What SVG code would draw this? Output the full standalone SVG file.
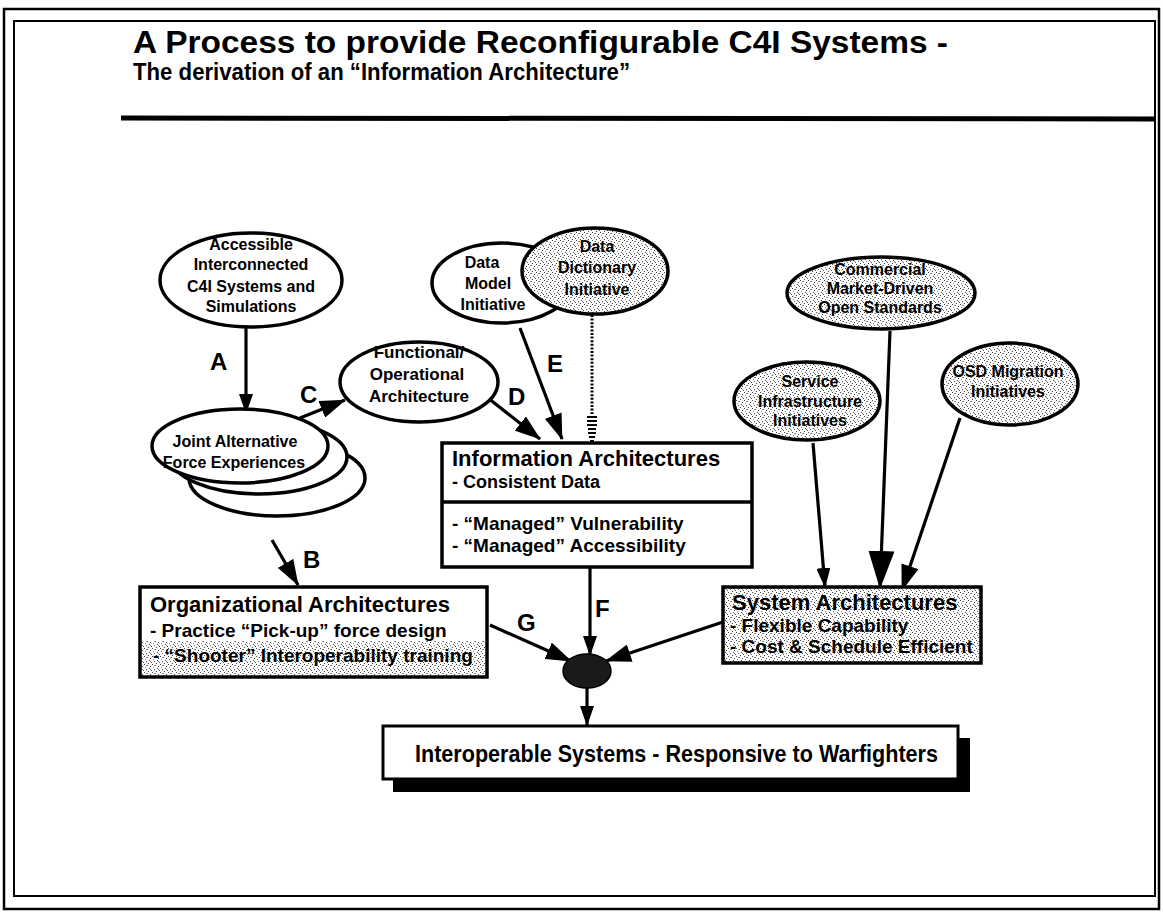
<svg xmlns="http://www.w3.org/2000/svg" width="1163" height="917" viewBox="0 0 1163 917">
<defs>
<style>
.t{font-family:"Liberation Sans",Arial,Helvetica,sans-serif;font-weight:bold;fill:#000}
.el{fill:#fff;stroke:#000;stroke-width:3.5}
.els{fill:url(#stip);stroke:#000;stroke-width:3.5}
.box{fill:#fff;stroke:#000;stroke-width:3.5}
.con{fill:none;stroke:#000;stroke-width:3.2}
.e16{font-size:16px;text-anchor:middle}
.lbl{font-size:24px}
.b22{font-size:22px}
.b19{font-size:19px}
</style>
<pattern id="stip" width="8" height="8" patternUnits="userSpaceOnUse">
<rect width="8" height="8" fill="#fff"/>
<rect x="0" y="0" width="1" height="1" fill="#444"/>
<rect x="3" y="1" width="1" height="1" fill="#666"/>
<rect x="6" y="2" width="1" height="1" fill="#444"/>
<rect x="1" y="3" width="1" height="1" fill="#777"/>
<rect x="5" y="4" width="1" height="1" fill="#444"/>
<rect x="2" y="5" width="1" height="1" fill="#666"/>
<rect x="7" y="6" width="1" height="1" fill="#555"/>
<rect x="4" y="7" width="1" height="1" fill="#444"/>
<rect x="6" y="5" width="1" height="1" fill="#888"/>
<rect x="2" y="1" width="1" height="1" fill="#999"/>
</pattern>
<marker id="ah" viewBox="0 0 20 14" refX="19" refY="7" markerWidth="20" markerHeight="14" markerUnits="userSpaceOnUse" orient="auto">
<path d="M0,0 L20,7 L0,14 z" fill="#000"/>
</marker>
<marker id="ahb" viewBox="0 0 38 26" refX="37" refY="13" markerWidth="38" markerHeight="26" markerUnits="userSpaceOnUse" orient="auto">
<path d="M0,0 L38,13 L0,26 z" fill="#000"/>
</marker>
<marker id="ahm" viewBox="0 0 26 18" refX="25" refY="9" markerWidth="26" markerHeight="18" markerUnits="userSpaceOnUse" orient="auto">
<path d="M0,0 L26,9 L0,18 z" fill="#000"/>
</marker>
</defs>

<rect width="1163" height="917" fill="#fff"/>

<g id="frame" fill="none" stroke="#000">
<rect x="4" y="9" width="1155" height="900" stroke-width="2.5"/>
<rect x="14" y="21" width="1141" height="875" stroke-width="2"/>
<line x1="121" y1="118" x2="1156" y2="119" stroke-width="5"/>
</g>

<g id="title">
<text class="t" x="133" y="53" font-size="31" textLength="815" lengthAdjust="spacingAndGlyphs">A Process to provide Reconfigurable C4I Systems -</text>
<text class="t" x="133" y="80" font-size="23" textLength="497" lengthAdjust="spacingAndGlyphs">The derivation of an “Information Architecture”</text>
</g>

<g id="connectors">
<line class="con" x1="246" y1="328" x2="246" y2="413" marker-end="url(#ah)"/>
<line class="con" x1="300" y1="418" x2="345" y2="400" marker-end="url(#ahm)"/>
<line class="con" x1="272" y1="540" x2="298" y2="585" marker-end="url(#ahm)"/>
<line class="con" x1="488" y1="398" x2="540" y2="439" marker-end="url(#ahm)"/>
<line class="con" x1="520" y1="328" x2="562" y2="439" marker-end="url(#ahm)"/>
<line fill="none" stroke="#000" stroke-width="3" stroke-dasharray="2 1.6" x1="592" y1="315" x2="592" y2="414"/>
<g stroke="#000" stroke-width="2">
<line x1="587" y1="417" x2="597" y2="417"/>
<line x1="587" y1="421" x2="597" y2="421"/>
<line x1="587" y1="425" x2="597" y2="425"/>
<line x1="588" y1="429" x2="596" y2="429"/>
<line x1="588" y1="433" x2="596" y2="433"/>
<line x1="589" y1="437" x2="595" y2="437"/>
<line x1="590" y1="441" x2="594" y2="441"/>
</g>
<line class="con" x1="590" y1="567" x2="590" y2="655" marker-end="url(#ah)"/>
<line class="con" x1="490" y1="625" x2="571" y2="661" marker-end="url(#ahm)"/>
<line class="con" x1="723" y1="622" x2="606" y2="661" marker-end="url(#ahm)"/>
<line class="con" x1="587" y1="688" x2="587" y2="725" marker-end="url(#ah)"/>
<line class="con" x1="813" y1="443" x2="825" y2="587" marker-end="url(#ah)"/>
<line class="con" x1="890" y1="331" x2="880" y2="588" marker-end="url(#ahb)"/>
<line class="con" x1="960" y1="418" x2="902" y2="590" marker-end="url(#ahm)"/>
<g class="t lbl">
<text x="210" y="370">A</text>
<text x="303" y="568">B</text>
<text x="300" y="403">C</text>
<text x="508" y="405">D</text>
<text x="547" y="372">E</text>
<text x="595" y="617">F</text>
<text x="517" y="631">G</text>
</g>
</g>

<g id="accessible">
<ellipse class="el" cx="251" cy="280" rx="91" ry="47"/>
<text class="t e16" x="251" y="250">Accessible</text>
<text class="t e16" x="251" y="270">Interconnected</text>
<text class="t e16" x="251" y="292">C4I Systems and</text>
<text class="t e16" x="251" y="312">Simulations</text>
</g>

<g id="joint">
<ellipse class="el" cx="277" cy="478" rx="88" ry="38"/>
<ellipse class="el" cx="259" cy="457" rx="88" ry="37"/>
<ellipse class="el" cx="240" cy="446" rx="88" ry="37"/>
<text class="t e16" x="235" y="447">Joint Alternative</text>
<text class="t e16" x="234" y="468">Force Experiences</text>
</g>

<g id="functional">
<ellipse class="el" cx="419" cy="382" rx="79" ry="40"/>
<text class="t" font-size="17" text-anchor="middle" x="419" y="358">Functional/</text>
<text class="t" font-size="17" text-anchor="middle" x="417" y="380">Operational</text>
<text class="t" font-size="17" text-anchor="middle" x="419" y="402">Architecture</text>
</g>

<g id="datamodel">
<ellipse class="el" cx="502" cy="283" rx="70" ry="40"/>
<text class="t e16" x="482" y="268">Data</text>
<text class="t e16" x="488" y="289">Model</text>
<text class="t e16" x="493" y="310">Initiative</text>
</g>

<g id="datadictionary">
<ellipse class="els" cx="595" cy="271" rx="73" ry="43"/>
<text class="t e16" x="597" y="252">Data</text>
<text class="t e16" x="597" y="273">Dictionary</text>
<text class="t e16" x="597" y="295">Initiative</text>
</g>

<g id="commercial">
<ellipse class="els" cx="881" cy="293" rx="94" ry="36"/>
<text class="t e16" x="880" y="275">Commercial</text>
<text class="t e16" x="880" y="294">Market-Driven</text>
<text class="t e16" x="880" y="313">Open Standards</text>
</g>

<g id="service">
<ellipse class="els" cx="807" cy="401" rx="73" ry="39"/>
<text class="t e16" x="810" y="387">Service</text>
<text class="t e16" x="810" y="407">Infrastructure</text>
<text class="t e16" x="810" y="426">Initiatives</text>
</g>

<g id="osd">
<ellipse class="els" cx="1010" cy="384" rx="68" ry="41"/>
<text class="t e16" x="1008" y="377">OSD Migration</text>
<text class="t e16" x="1008" y="397">Initiatives</text>
</g>

<g id="infoarch">
<rect class="box" x="442" y="443" width="310" height="124"/>
<line x1="442" y1="502" x2="752" y2="502" stroke="#000" stroke-width="3.5"/>
<text class="t b22" x="452" y="466">Information Architectures</text>
<text class="t" font-size="18" x="452" y="488">- Consistent Data</text>
<text class="t b19" x="452" y="530">- “Managed” Vulnerability</text>
<text class="t b19" x="452" y="552">- “Managed” Accessibility</text>
</g>

<g id="orgarch">
<rect class="box" x="140" y="587" width="347" height="90"/>
<rect x="142" y="641" width="343" height="34" fill="url(#stip)"/>
<text class="t b22" x="150" y="612">Organizational Architectures</text>
<text class="t b19" x="150" y="637">- Practice “Pick-up” force design</text>
<text class="t b19" x="153" y="662">- “Shooter” Interoperability training</text>
</g>

<g id="sysarch">
<rect class="box" x="723" y="587" width="258" height="76" style="fill:url(#stip)"/>
<text class="t b22" x="732" y="610">System Architectures</text>
<text class="t b19" x="730" y="632">- Flexible Capability</text>
<text class="t b19" x="730" y="653">- Cost &amp; Schedule Efficient</text>
</g>

<g id="junction">
<ellipse cx="587" cy="671" rx="24" ry="17" fill="#1a1a1a" stroke="#000" stroke-width="1.5"/>
</g>

<g id="interop">
<rect x="393" y="738" width="577" height="54" fill="#000"/>
<rect x="383" y="726" width="575" height="53" fill="#fff" stroke="#000" stroke-width="3"/>
<text class="t" font-size="24" x="415" y="762" textLength="523" lengthAdjust="spacingAndGlyphs">Interoperable Systems - Responsive to Warfighters</text>
</g>
</svg>
